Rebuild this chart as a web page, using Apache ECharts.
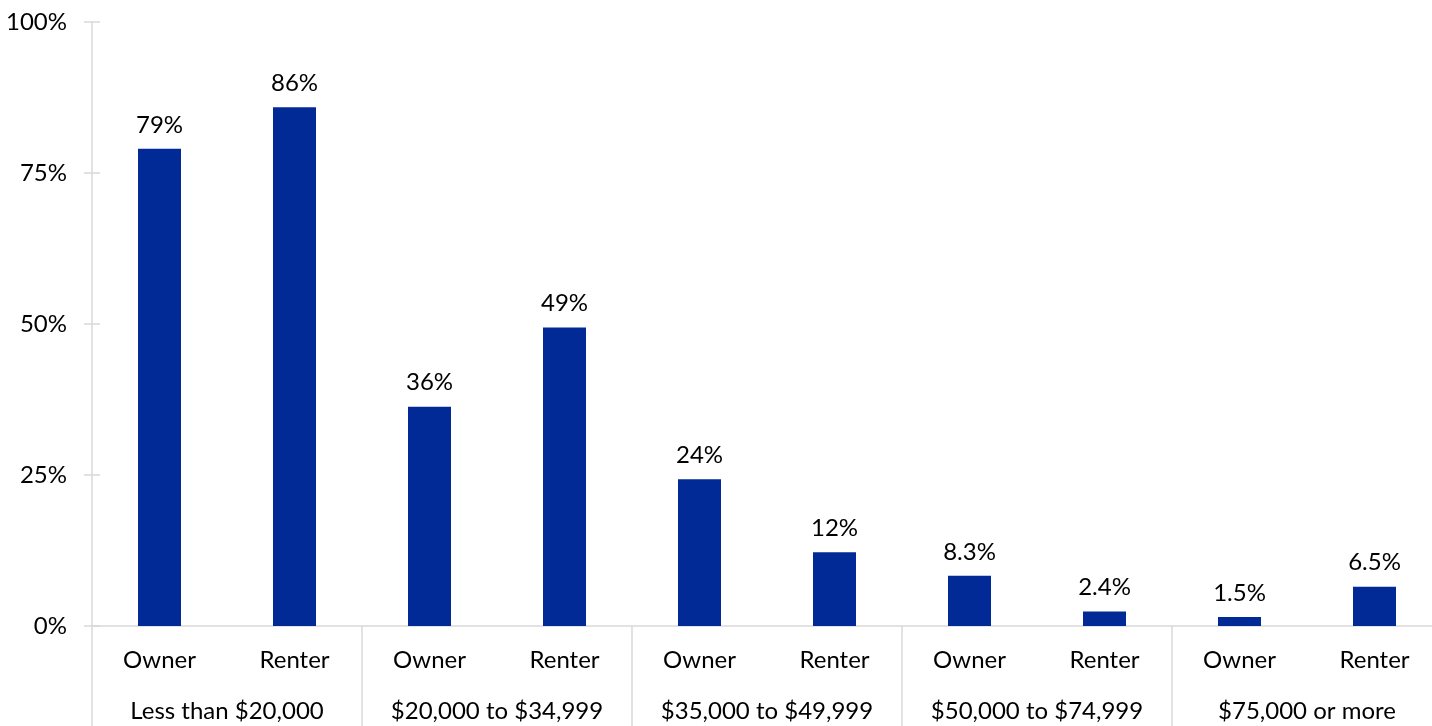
<!DOCTYPE html>
<html>
<head>
<meta charset="utf-8">
<script src="https://cdn.jsdelivr.net/npm/echarts@6/dist/echarts.min.js"></script>
<style>
  html, body { margin: 0; padding: 0; background: #fff; }
  #chart { width: 1432px; height: 726px; }
</style>
</head>
<body>
<div id="chart"></div>
<script>
// tenure categories (one per bar) and income groups (one per pair)
const tenure = ['Owner', 'Renter', 'Owner', 'Renter', 'Owner', 'Renter', 'Owner', 'Renter', 'Owner', 'Renter'];
const incomeGroups = ['Less than $20,000', '$20,000 to $34,999', '$35,000 to $49,999', '$50,000 to $74,999', '$75,000 or more'];
// share (%)
const shares = [79.0, 85.9, 36.3, 49.4, 24.3, 12.2, 8.3, 2.4, 1.5, 6.5];
const yTicks = [0, 25, 50, 75, 100];

const font = 'Lato';
const gray = '#d9d9d9';

const chart = echarts.init(document.getElementById('chart'));

const option = {
    animation: false,
    textStyle: { fontFamily: font },
    grid: { left: 92, top: 22, right: -10, bottom: 100, containLabel: false, outerBoundsMode: 'none' },
    xAxis: [
        {
            type: 'category',
            data: tenure,
            position: 'bottom',
            axisLine: { show: false },
            axisTick: { show: false },
            axisLabel: { interval: 0, margin: 22, fontSize: 24, color: '#000', fontFamily: font }
        },
        {
            type: 'category',
            data: incomeGroups,
            position: 'bottom',
            axisLine: { show: true, lineStyle: { color: gray, width: 1.5 } },
            axisTick: { show: true, interval: 0, length: 100, lineStyle: { color: gray, width: 1.5 } },
            axisLabel: { interval: 0, margin: 73, fontSize: 24, color: '#000', fontFamily: font }
        }
    ],
    yAxis: [
        {
            type: 'value',
            min: yTicks[0],
            max: yTicks[yTicks.length - 1],
            interval: 25,
            axisLine: { show: true, lineStyle: { color: gray, width: 1.5 } },
            axisTick: { show: true, length: 8, lineStyle: { color: gray, width: 1.5 } },
            splitLine: { show: false },
            axisLabel: { formatter: '{value}%', margin: 25, fontSize: 24, color: '#000', fontFamily: font }
        },
        {
            // inner half of the crossing ticks
            type: 'value',
            position: 'left',
            min: yTicks[0],
            max: yTicks[yTicks.length - 1],
            interval: 25,
            axisLine: { show: false },
            axisTick: { show: true, inside: true, length: 8, lineStyle: { color: gray, width: 1.5 } },
            splitLine: { show: false },
            axisLabel: { show: false }
        }
    ],
    series: [
        {
            type: 'bar',
            xAxisIndex: 0,
            yAxisIndex: 0,
            data: shares,
            barWidth: 43,
            itemStyle: { color: '#012a96' },
            label: {
                show: true,
                position: 'top',
                distance: 12,
                fontSize: 24,
                color: '#000',
                fontFamily: font,
                formatter: p => (p.value >= 10 ? Math.round(p.value) : p.value.toFixed(1)) + '%'
            }
        }
    ]
};

chart.setOption(option);
</script>
</body>
</html>
